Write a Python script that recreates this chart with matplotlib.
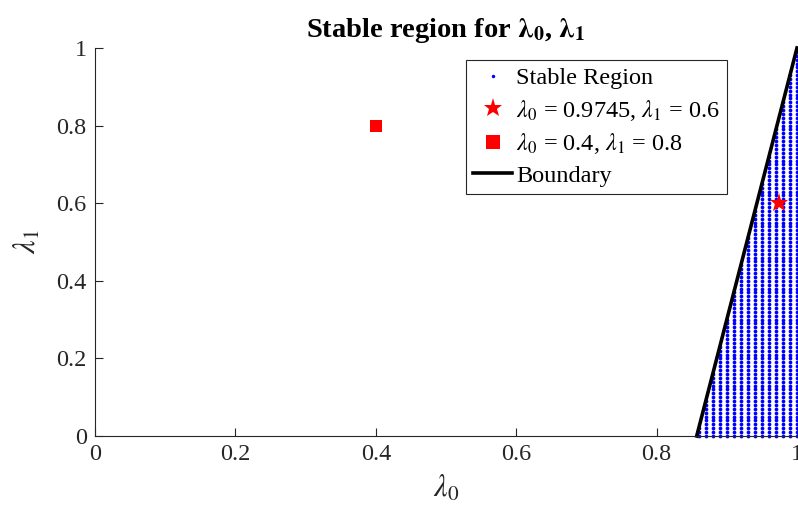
import numpy as np
import matplotlib
matplotlib.use("Agg")
import matplotlib.pyplot as plt

plt.rcParams['font.family'] = ['Liberation Serif', 'DejaVu Serif']
plt.rcParams['mathtext.fontset'] = 'stix'

# data
grid_x_step = 0.01
grid_y_step = 0.01
boundary_l0 = [6/7, 1.0]
boundary_l1 = [0.0, 1.0]
star_pt = (0.9745, 0.6)
square_pt = (0.4, 0.8)
xticks = [0, 0.2, 0.4, 0.6, 0.8, 1]
yticks = [0, 0.2, 0.4, 0.6, 0.8, 1]
ticklabels = ['0', '0.2', '0.4', '0.6', '0.8', '1']

g0 = np.arange(0, 1 + 1e-9, grid_x_step)
g1 = np.arange(0, 1 + 1e-9, grid_y_step)
G0, G1 = np.meshgrid(g0, g1)
slope = (boundary_l1[1] - boundary_l1[0]) / (boundary_l0[1] - boundary_l0[0])
mask = G1 <= slope * (G0 - boundary_l0[0]) + 1e-9
S0 = G0[mask]
S1 = G1[mask]

fig = plt.figure(figsize=(7.98, 5.18), dpi=100)
ax = fig.add_axes([95/798, 1-436/518, (797-95)/798, (436-48)/518])

gray = '#262626'
ax.plot(S0, S1, 'o', color='blue', markersize=2.7, markeredgewidth=0, label='Stable Region', clip_on=False)
ax.plot([star_pt[0]], [star_pt[1]], '*', color='red', markersize=14, markeredgewidth=0,
        label=r'$\lambda_0$ = 0.9745, $\lambda_1$ = 0.6')
ax.plot([square_pt[0]], [square_pt[1]], 's', color='red', markersize=8.5, markeredgewidth=0,
        label=r'$\lambda_0$ = 0.4, $\lambda_1$ = 0.8')
ax.plot(boundary_l0, boundary_l1, '-', color='black', linewidth=2.6, label='Boundary', clip_on=False)

ax.set_xlim(0, 1)
ax.set_ylim(0, 1)
ax.set_xticks(xticks)
ax.set_xticklabels(ticklabels)
ax.set_yticks(yticks)
ax.set_yticklabels(ticklabels)
ax.tick_params(direction='in', length=6, width=0.8, colors=gray, labelsize=17.5, pad=6)
for s in ['top', 'right']:
    ax.spines[s].set_visible(False)
for s in ['left', 'bottom']:
    ax.spines[s].set_color(gray)
    ax.spines[s].set_linewidth(0.8)

ax.set_xlabel(r'$\lambda_0$', fontsize=22, color=gray, labelpad=6)
ax.set_ylabel(r'$\lambda_1$', fontsize=22, color=gray, labelpad=10)
ax.set_title(r'Stable region for $\boldsymbol{\lambda}_\mathbf{0}$, $\boldsymbol{\lambda}_\mathbf{1}$',
             fontsize=20.5, fontweight='bold', pad=8)

leg = ax.legend(loc='upper right', bbox_to_anchor=(0.900, 0.969), fontsize=17.5, frameon=True,
                fancybox=False, edgecolor=gray, framealpha=1, handlelength=1.6,
                handletextpad=0.15, borderpad=0.3, labelspacing=0.35, borderaxespad=0,
                markerscale=1.0)
leg.get_frame().set_linewidth(0.8)
handles = leg.legend_handles
handles[0].set_markersize(2.5)
handles[2].set_markersize(10)

fig.savefig('out.png', dpi=100)
